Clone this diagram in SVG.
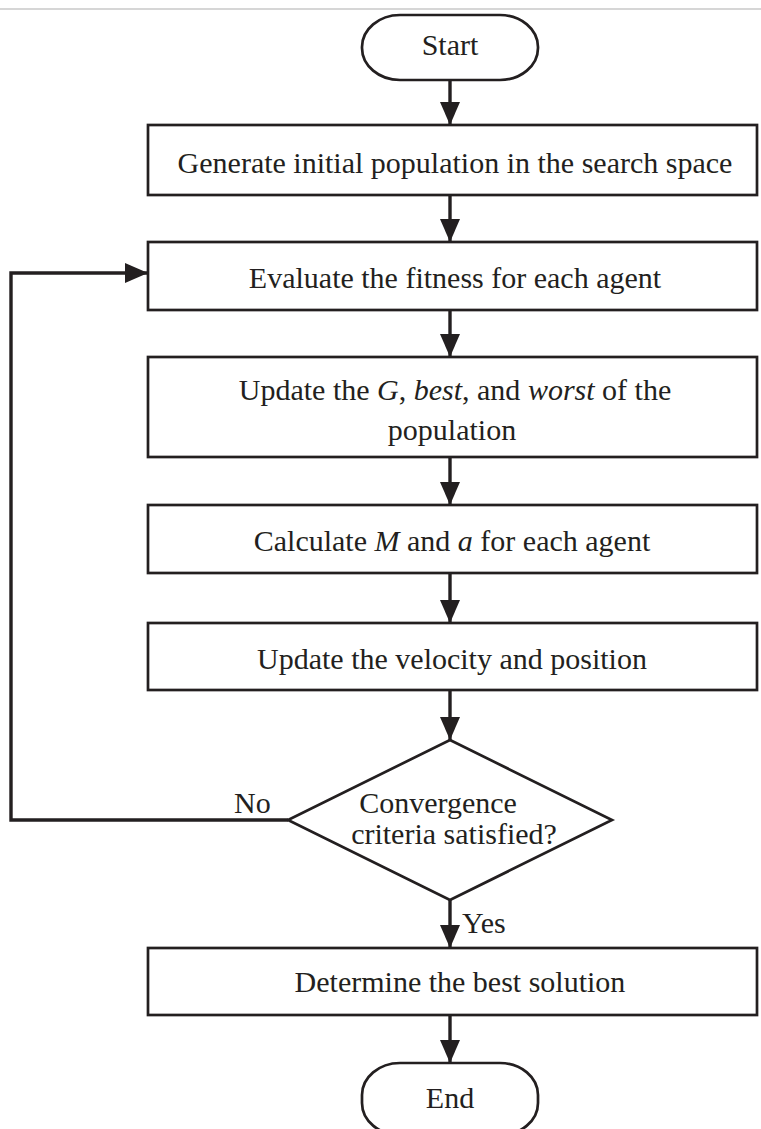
<svg xmlns="http://www.w3.org/2000/svg" width="761" height="1129" viewBox="0 0 761 1129">
<style>
.box{fill:#fff;stroke:#231f20;stroke-width:2.7}
.t{font-family:"Liberation Serif","Times New Roman",serif;font-size:30px;fill:#231f20;text-anchor:middle}
.l{font-family:"Liberation Serif","Times New Roman",serif;font-size:30px;fill:#231f20}
.c{fill:none;stroke:#231f20;stroke-width:3.4}
</style>
<defs>
<marker id="ah" markerWidth="23" markerHeight="20" refX="23" refY="10" orient="auto" markerUnits="userSpaceOnUse" viewBox="0 0 23 20">
<path d="M0,0 L23,10 L0,20 Z" fill="#231f20"/>
</marker>
</defs>
<rect x="0" y="0" width="761" height="1129" fill="#fff"/>
<line x1="0" y1="9" x2="761" y2="9" stroke="#c8c8c8" stroke-width="1.5"/>
<g id="start"><rect class="box" x="362" y="15" width="176" height="65" rx="38" ry="32"/><text class="t" x="450" y="55">Start</text></g>
<g id="generate"><rect class="box" x="148" y="125" width="609" height="70"/><text class="t" x="455" y="173">Generate initial population in the search space</text></g>
<g id="evaluate"><rect class="box" x="148" y="242" width="609" height="68"/><text class="t" x="455" y="288">Evaluate the fitness for each agent</text></g>
<g id="updateG"><rect class="box" x="148" y="357" width="609" height="100"/><text class="t" x="455" y="400">Update the <tspan font-style="italic">G</tspan>, <tspan font-style="italic">best</tspan>, and <tspan font-style="italic">worst</tspan> of the</text><text class="t" x="452" y="440">population</text></g>
<g id="calculate"><rect class="box" x="148" y="505" width="609" height="68"/><text class="t" x="452" y="551">Calculate <tspan font-style="italic">M</tspan> and <tspan font-style="italic">a</tspan> for each agent</text></g>
<g id="velocity"><rect class="box" x="148" y="623" width="609" height="67"/><text class="t" x="452" y="669">Update the velocity and position</text></g>
<g id="decision"><polygon class="box" points="450,740 612,820 450,900 288,820"/><text class="t" x="438" y="813">Convergence</text><text class="t" x="454" y="844">criteria satisfied?</text></g>
<g id="determine"><rect class="box" x="148" y="948" width="609" height="67"/><text class="t" x="460" y="992">Determine the best solution</text></g>
<g id="end"><rect class="box" x="362" y="1063" width="176" height="72" rx="38" ry="32"/><text class="t" x="450" y="1108">End</text></g>
<g id="connectors">
<line class="c" x1="450" y1="80" x2="450" y2="125" marker-end="url(#ah)"/>
<line class="c" x1="450" y1="195" x2="450" y2="242" marker-end="url(#ah)"/>
<line class="c" x1="450" y1="310" x2="450" y2="357" marker-end="url(#ah)"/>
<line class="c" x1="450" y1="457" x2="450" y2="505" marker-end="url(#ah)"/>
<line class="c" x1="450" y1="573" x2="450" y2="623" marker-end="url(#ah)"/>
<line class="c" x1="450" y1="690" x2="450" y2="740" marker-end="url(#ah)"/>
<line class="c" x1="450" y1="900" x2="450" y2="948" marker-end="url(#ah)"/>
<line class="c" x1="450" y1="1015" x2="450" y2="1063" marker-end="url(#ah)"/>
<polyline class="c" points="288,820 11,820 11,273 148,273" marker-end="url(#ah)"/>
<text class="l" x="234" y="813">No</text>
<text class="l" x="462" y="933">Yes</text>
</g>
</svg>
